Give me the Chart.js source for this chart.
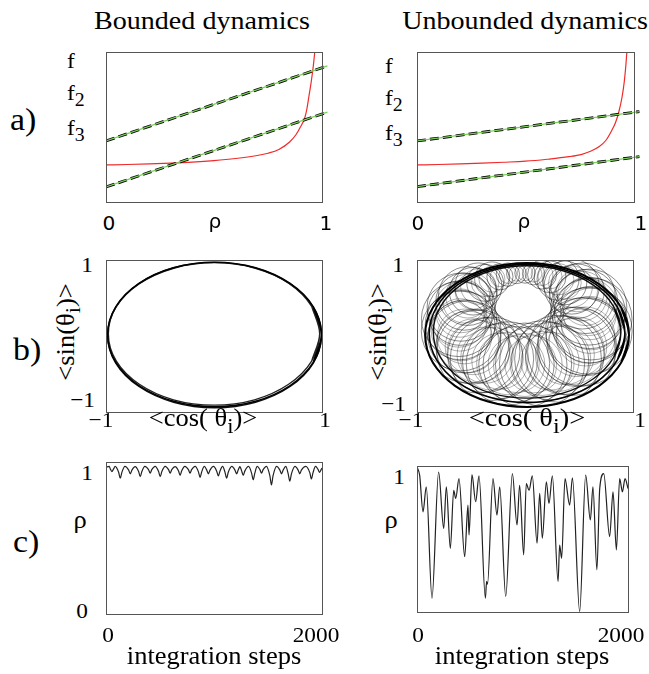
<!DOCTYPE html>
<html>
<head>
<meta charset="utf-8">
<script src="https://cdn.jsdelivr.net/npm/chart.js@4.4.0/dist/chart.umd.min.js"></script>
<style>
body { margin: 0; background: #fff; }
#fig { position: relative; width: 649px; height: 674px; overflow: hidden; color: #000; }
#fig canvas { position: absolute; }
.lb { position: absolute; white-space: nowrap; line-height: 1; }
.lb sub { font-size: 0.85em; vertical-align: -0.32em; line-height: 0; }
</style>
</head>
<body>
<div id="fig"></div>
<script>
// ---- panel a: f(rho) against the two straight lines ----
const aLineX = [0, 1.025];
const aUpperL = [0.407, 0.907];
const aLowerL = [0.100, 0.599];
const aUpperR = [0.407, 0.603];
const aLowerR = [0.102, 0.303];
const redRhoL = [0, 0.1, 0.2, 0.3, 0.4, 0.5, 0.6, 0.7, 0.75, 0.8, 0.85, 0.88, 0.9, 0.92, 0.93, 0.94, 0.95, 0.96, 0.97];
const redFL   = [0.247, 0.25, 0.254, 0.259, 0.266, 0.276, 0.29, 0.31, 0.325, 0.35, 0.4, 0.45, 0.5, 0.56, 0.62, 0.71, 0.8, 0.91, 1.05];
const redRhoR = [0, 0.1, 0.2, 0.3, 0.4, 0.5, 0.6, 0.7, 0.76, 0.8, 0.84, 0.87, 0.895, 0.915, 0.93, 0.945, 0.955, 0.963, 0.972];
const redFR   = [0.247, 0.25, 0.254, 0.259, 0.265, 0.272, 0.285, 0.302, 0.318, 0.338, 0.37, 0.41, 0.47, 0.53, 0.6, 0.7, 0.8, 0.92, 1.1];

// ---- panel b: trajectories in the <cos>,<sin> plane (each loop wraps one point past its start) ----
const ellLoop1 = [[0.92,-0.344],[0.995,0.02],[0.92,0.384],[0.705,0.692],[0.385,0.898],[0.005,0.97],[-0.374,0.898],[-0.695,0.692],[-0.91,0.384],[-0.985,0.02],[-0.91,-0.344],[-0.695,-0.652],[-0.374,-0.858],[0.005,-0.93],[0.385,-0.858],[0.705,-0.652],[0.92,-0.344],[0.995,0.02],[0.92,0.384]];
const ellLoop2 = [[0.904,-0.33],[0.978,0.03],[0.904,0.39],[0.691,0.695],[0.375,0.899],[0,0.97],[-0.375,0.899],[-0.691,0.695],[-0.904,0.39],[-0.978,0.03],[-0.904,-0.33],[-0.691,-0.635],[-0.375,-0.839],[0,-0.91],[0.375,-0.839],[0.691,-0.635],[0.904,-0.33],[0.978,0.03],[0.904,0.39]];
const ellLoop3 = [[0.92,-0.356],[0.995,0.01],[0.92,0.376],[0.705,0.685],[0.384,0.892],[0.005,0.965],[-0.374,0.892],[-0.695,0.685],[-0.91,0.376],[-0.985,0.01],[-0.91,-0.356],[-0.695,-0.665],[-0.374,-0.872],[0.005,-0.945],[0.384,-0.872],[0.705,-0.665],[0.92,-0.356],[0.995,0.01],[0.92,0.376]];
const ringLoop1 = [[0.891,-0.35],[0.963,0.013],[0.891,0.376],[0.686,0.682],[0.381,0.888],[0.019,0.96],[-0.343,0.888],[-0.648,0.682],[-0.853,0.376],[-0.925,0.013],[-0.853,-0.35],[-0.648,-0.656],[-0.343,-0.862],[0.019,-0.934],[0.381,-0.862],[0.686,-0.656],[0.891,-0.35],[0.963,0.013],[0.891,0.376]];
const ringLoop2 = [[0.856,-0.315],[0.925,0.033],[0.856,0.381],[0.66,0.676],[0.366,0.873],[0.019,0.942],[-0.328,0.873],[-0.622,0.676],[-0.818,0.381],[-0.887,0.033],[-0.818,-0.315],[-0.622,-0.61],[-0.328,-0.807],[0.019,-0.876],[0.366,-0.807],[0.66,-0.61],[0.856,-0.315],[0.925,0.033],[0.856,0.381]];
const ringLoop3 = [[0.821,-0.281],[0.887,0.053],[0.821,0.387],[0.633,0.669],[0.351,0.858],[0.019,0.924],[-0.313,0.858],[-0.595,0.669],[-0.783,0.387],[-0.849,0.053],[-0.783,-0.281],[-0.595,-0.563],[-0.313,-0.752],[0.019,-0.818],[0.351,-0.752],[0.633,-0.563],[0.821,-0.281],[0.887,0.053],[0.821,0.387]];
// small loops of the unbounded orbit: centre and radius (px), plus a set of inner loops
const loopX = [0.611,0.601,0.591,0.561,0.530,0.481,0.432,0.369,0.306,0.232,0.158,0.079,0,-0.079,-0.158,-0.232,-0.306,-0.369,-0.432,-0.481,-0.530,-0.561,-0.591,-0.601,-0.611,-0.601,-0.591,-0.561,-0.530,-0.481,-0.432,-0.369,-0.306,-0.232,-0.158,-0.079,0,0.079,0.158,0.232,0.306,0.369,0.432,0.481,0.530,0.561,0.591,0.601];
const loopY = [0.224,0.302,0.380,0.453,0.526,0.589,0.651,0.699,0.747,0.778,0.808,0.819,0.829,0.819,0.808,0.778,0.747,0.699,0.651,0.589,0.526,0.453,0.380,0.302,0.224,0.146,0.067,-0.006,-0.079,-0.142,-0.204,-0.252,-0.300,-0.331,-0.361,-0.372,-0.382,-0.372,-0.361,-0.331,-0.300,-0.252,-0.204,-0.142,-0.079,-0.006,0.067,0.146];
const loopR = [41,35.6,38,32,33,27.3,27.6,21.9,21,16,14.5,11.1,10.2,9.9,11.7,13.1,17.3,18.4,23.6,23.8,29.4,28.6,34.1,32.3,37.6,34.9,39.9,36.5,41.2,37.2,41.6,37.5,41.7,37.5,41.7,37.7,42,38.1,42.6,38.7,43.4,39.3,44,39.7,44.1,39.3,43.3,38];
const innerR = [30.8,26.7,28.5,24,24.8,20.5,20.7,16.4,15.8,12,10.9,8.3,7.7,7.4,8.8,9.8,13,13.8,17.7,17.9,22,21.5,25.6,24.2,28.2,26.2,29.9,27.4,30.9,27.9,31.2,28.1,31.3,28.1,31.3,28.3,31.5,28.6,32,29,32.6,29.5,33,29.8,33.1,29.5,32.5,28.5];

// ---- panel c: rho over integration steps ----
const cLeftSteps = [0,30,40,55,70,85,117,132,147,175,210,225,240,270,302,317,332,360,394,409,424,455,487,502,517,548,579,594,609,640,671,686,701,730,763,778,793,825,856,871,886,910,933,948,963,995,1025,1040,1055,1080,1102,1117,1132,1165,1194,1209,1224,1240,1256,1271,1286,1320,1348,1363,1378,1400,1425,1440,1455,1485,1517,1532,1547,1580,1610,1625,1640,1665,1687,1702,1717,1750,1779,1794,1809,1850,1887,1902,1917,1940,1963,1978,1993,2000];
const cLeftRho   = [0.995,1,0.983,0.965,0.983,1,0.96,0.92,0.96,1,0.975,0.95,0.975,0.998,0.965,0.93,0.965,1,0.978,0.955,0.978,1,0.965,0.93,0.965,1,0.978,0.955,0.978,0.998,0.97,0.94,0.97,1,0.978,0.955,0.978,1,0.963,0.925,0.963,1,0.975,0.95,0.975,1,0.968,0.935,0.968,1,0.96,0.92,0.96,1,0.975,0.95,0.975,0.998,0.97,0.94,0.97,1,0.955,0.91,0.955,1,0.978,0.955,0.978,1,0.938,0.875,0.938,1,0.975,0.95,0.975,1,0.95,0.9,0.95,1,0.975,0.95,0.975,1,0.958,0.915,0.958,1,0.98,0.96,0.98,0.99];
const cRightSteps = [0,25,57,88,142,205,253,278,316,348,367,398,452,483,493,521,556,588,648,660,668,720,758,784,841,904,948,973,1011,1036,1062,1093,1138,1163,1188,1226,1251,1283,1337,1352,1371,1403,1447,1473,1542,1599,1643,1668,1705,1732,1770,1826,1858,1890,1921,1947,1972,2000];
const cRightRho   = [0.993,0.937,0.686,0.857,0.095,0.959,0.573,0.857,0.436,0.834,0.778,0.914,0.379,0.732,0.527,0.941,0.755,0.932,0.095,0.21,0.19,0.914,0.664,0.857,0.106,0.948,0.596,0.868,0.391,0.88,0.834,0.932,0.471,0.812,0.505,0.891,0.743,0.932,0.209,0.459,0.368,0.914,0.732,0.919,0.004,0.937,0.63,0.857,0.289,0.846,0.948,0.516,0.823,0.425,0.914,0.823,0.914,0.846];

const fig = document.getElementById('fig');
const PAD = 10;

// use the first serif face that is really installed
function pickFont(names) {
    const c = document.createElement('canvas').getContext('2d');
    const s = 'Bounded dynamics integration 0123';
    c.font = '40px monospace';
    const base = c.measureText(s).width;
    for (const n of names) {
        c.font = '40px "' + n + '", monospace';
        if (Math.abs(c.measureText(s).width - base) > 0.5) return '"' + n + '", serif';
    }
    return 'serif';
}
const SERIF = pickFont(['Liberation Serif', 'Times New Roman', 'Tinos', 'Nimbus Roman', 'FreeSerif', 'Noto Serif', 'DejaVu Serif']);
const SANS = '"DejaVu Sans", sans-serif';

function pts(xs, ys) { return xs.map((x, i) => ({ x: x, y: ys[i] })); }
function pairs(list) { return list.map(p => ({ x: p[0], y: p[1] })); }

// thin box around the plot area
const framePlugin = {
    id: 'frame',
    afterDatasetsDraw(chart) {
        const a = chart.chartArea, ctx = chart.ctx;
        ctx.save();
        ctx.strokeStyle = '#555';
        ctx.lineWidth = 1;
        ctx.strokeRect(a.left + 0.5, a.top + 0.5, a.right - a.left, a.bottom - a.top);
        ctx.restore();
    }
};

function makeChart(box, xr, yr, datasets) {
    const cv = document.createElement('canvas');
    cv.width = box.w + 2 * PAD;
    cv.height = box.h + 2 * PAD;
    cv.style.left = (box.x - PAD) + 'px';
    cv.style.top = (box.y - PAD) + 'px';
    fig.appendChild(cv);
    return new Chart(cv.getContext('2d'), {
        type: 'scatter',
        data: { datasets: datasets },
        options: {
            responsive: false,
            animation: false,
            events: [],
            layout: { padding: PAD, autoPadding: false },
            plugins: { legend: { display: false }, tooltip: { enabled: false } },
            scales: {
                x: { type: 'linear', display: false, min: xr[0], max: xr[1] },
                y: { type: 'linear', display: false, min: yr[0], max: yr[1] }
            }
        },
        plugins: [framePlugin]
    });
}

function line(data, color, width, extra) {
    return Object.assign({ data: data, showLine: true, borderColor: color, borderWidth: width, pointRadius: 0, fill: false }, extra || {});
}

const overRight = { clip: { left: 0, top: 0, right: 6, bottom: 0 } };
function aSets(upper, lower, redX, redY) {
    return [
        line(pts(aLineX, upper), '#7bcf5a', 1.3, overRight),
        line(pts(aLineX, lower), '#7bcf5a', 1.3, overRight),
        line(pts(aLineX, upper), '#000', 2.8, Object.assign({ borderDash: [9, 4] }, overRight)),
        line(pts(aLineX, lower), '#000', 2.8, Object.assign({ borderDash: [9, 4] }, overRight)),
        line(pts(redX, redY), '#f02a2a', 1.2, { cubicInterpolationMode: 'monotone' })
    ];
}
makeChart({ x: 106, y: 52, w: 216, h: 150 }, [0, 1], [0, 1], aSets(aUpperL, aLowerL, redRhoL, redFL));
makeChart({ x: 417, y: 52, w: 217, h: 150 }, [0, 1], [0, 1], aSets(aUpperR, aLowerR, redRhoR, redFR));

const loopStyle = { tension: 0.34 };
makeChart({ x: 106, y: 260, w: 216, h: 152 }, [-1, 1], [-1, 1], [
    line(pairs(ellLoop1), '#000', 1.5, loopStyle),
    line(pairs(ellLoop2), '#222', 1.3, loopStyle),
    line(pairs(ellLoop3), '#111', 1.4, loopStyle)
]);
function bubbles(rs, color) {
    return {
        type: 'bubble',
        data: loopX.map((x, i) => ({ x: x, y: loopY[i], r: rs[i] })),
        backgroundColor: 'rgba(0,0,0,0)',
        borderColor: color,
        borderWidth: 0.9
    };
}
makeChart({ x: 417, y: 260, w: 216, h: 152 }, [-1, 1], [-1, 1], [
    bubbles(innerR, 'rgba(0,0,0,0.35)'),
    bubbles(loopR, 'rgba(0,0,0,0.5)'),
    line(pairs(ringLoop1), '#000', 2, loopStyle),
    line(pairs(ringLoop2), '#000', 1.6, loopStyle),
    line(pairs(ringLoop3), '#111', 1.4, loopStyle)
]);

const cStyle = { cubicInterpolationMode: 'monotone' };
makeChart({ x: 106, y: 462, w: 216, h: 152 }, [0, 2000], [0, 1.03], [
    line(pts(cLeftSteps, cLeftRho), '#222', 1.2, cStyle)
]);
makeChart({ x: 417, y: 466, w: 211, h: 146 }, [0, 2000], [0, 1], [
    line(pts(cRightSteps, cRightRho), '#222', 1.2, cStyle)
]);

// ---- text ----
function label(html, x, base, size, align, opt) {
    opt = opt || {};
    const d = document.createElement('div');
    d.className = 'lb';
    d.innerHTML = html;
    d.style.fontSize = size + 'px';
    d.style.fontFamily = opt.font || SERIF;
    d.style.left = x + 'px';
    d.style.top = (base - 0.8375 * size) + 'px';
    const sx = opt.sx || 1.06;
    if (align === 'center') { d.style.transform = 'translateX(-50%) scaleX(' + sx + ')'; }
    else if (align === 'right') { d.style.transformOrigin = '100% 50%'; d.style.transform = 'translateX(-100%) scaleX(' + sx + ')'; }
    else { d.style.transformOrigin = '0 50%'; d.style.transform = 'scaleX(' + sx + ')'; }
    fig.appendChild(d);
    return d;
}
function vlabel(html, cx, cy, size) {
    const d = document.createElement('div');
    d.className = 'lb';
    d.innerHTML = html;
    d.style.fontSize = size + 'px';
    d.style.fontFamily = SERIF;
    d.style.left = cx + 'px';
    d.style.top = cy + 'px';
    d.style.transform = 'translate(-50%,-50%) rotate(-90deg) scaleX(1.06)';
    fig.appendChild(d);
}

label('Bounded dynamics', 202, 30, 26, 'center', { sx: 1.08 });
label('Unbounded dynamics', 525, 30, 26, 'center', { sx: 1.08 });

label('a)', 10, 130, 32, 'left');
label('b)', 13, 360, 32, 'left');
label('c)', 13, 552, 32, 'left');

// panel a
label('f', 67, 68, 22, 'left');
label('f<sub>2</sub>', 67, 100, 22, 'left');
label('f<sub>3</sub>', 67, 135, 22, 'left');
label('f', 385, 73, 22, 'left');
label('f<sub>2</sub>', 385, 105, 22, 'left');
label('f<sub>3</sub>', 385, 140, 22, 'left');
label('0', 108.5, 230, 19, 'center', { font: SANS });
label('ρ', 215, 228, 19, 'center', { font: SANS });
label('1', 326, 230, 19, 'center', { font: SANS });
label('0', 418, 230, 19, 'center', { font: SANS });
label('ρ', 524, 228, 19, 'center', { font: SANS });
label('1', 641, 230, 19, 'center', { font: SANS });

// panel b
label('1', 93, 272, 22, 'right');
label('−1', 95, 407, 22, 'right');
label('−1', 101, 427, 22, 'center');
label('1', 325, 427, 22, 'center');
label('&lt;cos( θ<sub>i</sub>)&gt;', 203, 426, 25, 'center');
vlabel('&lt;sin(θ<sub>i</sub>)&gt;', 65, 332, 25);
label('1', 404, 272, 22, 'right');
label('−1', 406, 411, 22, 'right');
label('−1', 411, 427, 22, 'center');
label('1', 640, 427, 22, 'center');
label('&lt;cos( θ<sub>i</sub>)&gt;', 527, 426, 25, 'center', { sx: 1.14 });
vlabel('&lt;sin(θ<sub>i</sub>)&gt;', 377, 332, 25);

// panel c
label('1', 93, 480, 22, 'right');
label('ρ', 80, 528, 25, 'center');
label('0', 88, 618, 22, 'right');
label('0', 108, 642, 22, 'center');
label('2000', 316, 642, 22, 'center');
label('integration steps', 214, 664, 25, 'center');
label('1', 405, 484, 22, 'right');
label('ρ', 391, 528, 25, 'center');
label('0', 418, 642, 22, 'center');
label('2000', 621, 642, 22, 'center');
label('integration steps', 522, 664, 25, 'center');
</script>
</body>
</html>
